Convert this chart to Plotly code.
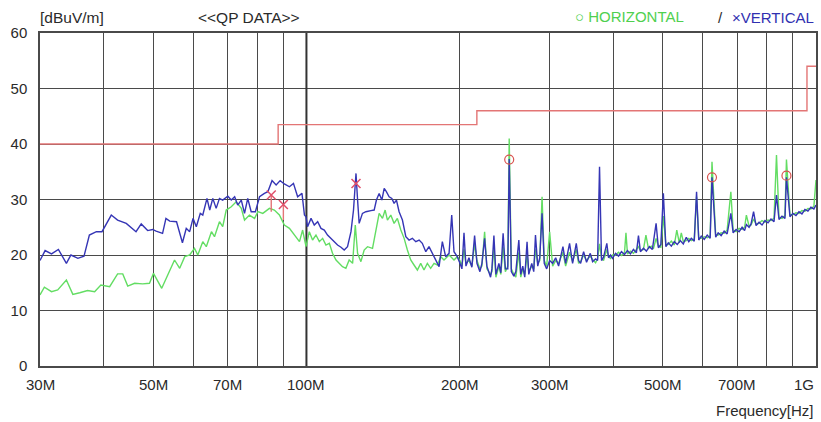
import math
import plotly.graph_objects as go

# ---------------- data ----------------
# Limit line (dBuV/m) - step function
LIMIT_FREQ = [30, 88, 216, 960, 1000]
LIMIT_LEVEL = [40, 43.5, 46, 54, 54]

# Vertical polarisation (blue) trace: frequency MHz, level dBuV/m
V_FREQ = [
    30.0, 30.7, 31.6, 32.6, 33.8, 34.5, 35.6, 36.6, 37.5, 38.7, 39.7, 41.4, 42.6, 44.3, 46.3, 47.4,
    48.8, 49.9, 50.7, 52.2, 53.0, 53.9, 55.6, 57.1, 58.1, 59.0, 59.9, 60.8, 61.9, 62.6, 63.8, 64.6,
    65.5, 66.5, 67.5, 68.5, 70.1, 71.2, 72.3, 73.3, 74.5, 75.6, 76.7, 77.9, 79.4, 80.9, 82.7, 84.0,
    85.6, 87.2, 88.8, 90.5, 92.6, 94.3, 96.1, 98.0, 99.1, 99.8, 100.5, 102.1, 103.6, 105.2, 106.8,
    108.4, 110.0, 111.7, 113.4, 115.1, 116.9, 118.6, 120.4, 122.3, 123.7, 125.1, 126.0, 126.9, 128.8,
    130.8, 133.8, 135.8, 137.2, 138.9, 140.6, 142.1, 143.5, 145.3, 147.1, 148.6, 150.2, 152.0, 154.3,
    156.7, 159.0, 161.4, 163.9, 166.4, 168.8, 171.5, 174.0, 176.6, 179.4, 182.1, 184.8, 187.6, 190.5,
    192.8, 194.8, 197.7,
    200.1, 201.9, 203.8, 205.6, 208.4, 211.2, 213.8, 216.1, 219.0, 221.0, 223.7, 226.0, 229.8, 231.2,
    233.3, 235.4, 238.6, 240.7, 243.2, 245.7, 248.4, 250.0, 252.4, 255.3, 257.6, 261.1, 263.4, 265.8,
    268.2, 271.0, 273.1, 276.8, 279.3, 281.5, 284.4, 287.0, 290.0, 292.9, 296.1, 300.1, 304.2, 308.4,
    312.5, 318.7, 322.6, 328.4, 332.9, 338.5, 342.1, 345.2, 349.9, 354.6, 360.6, 364.4, 369.3, 372.7,
    376.0, 379.4, 382.9, 388.6, 391.6, 395.2, 398.7,
    404.2, 409.7, 415.2, 420.9, 426.6, 432.4, 438.3, 444.2, 448.3, 452.3, 458.5, 464.7, 471.0, 477.4,
    485.5, 490.5, 496.1, 501.7, 507.4, 513.1, 520.1, 527.2, 534.3, 541.6, 549.0, 556.5, 562.8, 569.2,
    576.9, 582.9, 588.7, 595.4, 603.5, 611.7, 619.9, 625.0, 635.5, 642.7, 651.4, 660.3, 669.3, 680.6,
    687.7, 697.0, 706.5, 716.1, 724.2, 730.1, 739.0, 745.7, 754.2, 762.7, 773.1, 783.6, 794.3, 805.1,
    816.0, 827.2, 836.5, 846.0, 857.5, 869.2, 875.0, 889.0, 901.1, 913.4, 925.8, 938.4, 951.2, 964.1,
    977.2, 990.5, 1000.0,
]
V_LEVEL = [
    19.0, 20.8, 20.2, 21.0, 18.5, 20.0, 19.4, 19.8, 23.6, 24.2, 24.2, 27.2, 26.3, 25.7, 24.2, 25.6,
    24.4, 24.6, 24.3, 23.9, 26.6, 26.1, 26.0, 22.2, 24.8, 24.2, 26.6, 25.1, 27.5, 27.2, 30.2, 28.1,
    30.2, 28.4, 30.2, 29.9, 30.6, 29.9, 30.5, 29.0, 29.9, 27.5, 30.2, 27.8, 27.8, 30.5, 31.1, 31.4,
    33.4, 32.6, 33.4, 32.8, 32.3, 32.9, 30.5, 31.1, 27.2, 26.9, 25.1, 26.6, 25.4, 26.0, 24.8,
    24.5, 23.6, 23.0, 22.4, 21.8, 21.4, 20.9, 21.5, 24.2, 28.1, 34.7, 29.9, 25.7, 27.5,
    27.8, 28.0, 28.1, 29.9, 31.1, 29.9, 32.0, 31.4, 30.5, 30.2, 29.3, 29.9, 27.8, 26.3,
    23.3, 22.7, 23.0, 22.4, 22.7, 22.1, 20.6, 21.5, 20.3, 19.1, 17.9, 22.4, 19.7, 20.3,
    27.2, 20.6, 19.7,
    18.5, 17.5, 24.0, 18.0, 19.5, 17.8, 23.5, 18.5, 17.0, 18.5, 23.0, 18.0, 16.0, 17.5,
    23.5, 16.5, 18.5, 16.8, 23.9, 17.5, 17.5, 37.3, 17.0, 16.2, 17.0, 22.7, 16.5, 18.0,
    16.0, 22.4, 16.5, 18.5, 17.0, 23.6, 18.0, 19.5, 27.5, 18.5, 17.5, 19.0, 18.5, 19.5,
    18.0, 21.5, 18.5, 22.1, 18.5, 22.1, 19.0, 18.5, 20.6, 18.7, 20.3, 18.8, 19.3, 19.0,
    35.9, 19.0, 19.6, 22.1, 19.5, 20.0, 19.4,
    20.3, 19.8, 20.6, 20.1, 20.8, 20.2, 21.0, 20.4, 23.5, 20.6, 21.2, 20.7, 21.5, 21.0,
    25.7, 21.3, 21.9, 31.1, 21.5, 22.2, 21.6, 22.4, 21.9, 22.6, 22.0, 23.2, 22.4, 23.0,
    22.5, 31.4, 22.7, 23.4, 22.8, 23.6, 23.0, 34.0, 23.2, 24.0, 23.5, 24.3, 23.8, 27.5,
    24.0, 24.6, 24.2, 25.0, 24.4, 25.5, 25.0, 25.6, 27.8, 25.3, 25.9, 25.4, 26.2, 25.8,
    26.5, 26.0, 30.8, 26.4, 27.0, 26.6, 34.0, 26.9, 27.5, 27.1, 27.8, 27.4, 28.2, 27.9,
    28.6, 28.3, 29.0,
]

# Horizontal polarisation (green) trace
H_FREQ = [
    30.0, 30.6, 31.6, 32.5, 33.8, 34.8, 35.9, 37.2, 38.4, 39.5, 41.1, 42.6, 43.6, 44.6, 46.0, 47.7,
    49.2, 50.1, 52.0, 53.4, 55.1, 56.4, 57.7, 59.0, 60.3, 61.2, 62.6, 63.6, 65.1, 66.0, 67.5, 68.5,
    69.6, 71.2, 72.8, 74.5, 75.6, 77.3, 79.1, 80.3, 82.1, 84.6, 86.5, 88.5, 90.5, 92.6, 94.7, 96.9,
    98.3, 99.8, 101.3, 102.8, 104.4, 106.0, 107.6, 109.2, 110.9, 112.5, 114.3, 116.0, 117.7, 119.5,
    121.3, 123.2, 124.7, 126.0, 127.9, 129.8, 131.8, 134.8, 137.2, 138.9, 141.0, 142.7, 144.2, 146.4,
    148.6, 150.8, 153.2, 155.5, 157.8, 160.2, 162.6, 165.1, 167.6, 170.1, 172.7, 175.3, 178.0, 180.7,
    183.5, 186.2, 190.5, 194.8, 197.7,
    200.1, 201.9, 203.8, 205.6, 208.4, 211.2, 213.8, 216.1, 219.0, 221.0, 223.7, 226.0, 229.8, 231.2,
    233.3, 235.4, 238.6, 240.7, 243.2, 245.7, 248.4, 250.0, 252.4, 255.3, 257.6, 261.1, 263.4, 265.8,
    268.2, 271.0, 273.1, 276.8, 279.3, 281.5, 284.4, 287.0, 290.0, 292.9, 296.1, 300.1, 304.2, 308.4,
    312.5, 318.7, 322.6, 328.4, 332.9, 338.5, 342.1, 345.2, 349.9, 354.6, 360.6, 364.4, 369.3, 372.7,
    376.0, 379.4, 382.9, 388.6, 391.6, 395.2, 398.7,
    404.2, 409.7, 415.2, 420.9, 423.7, 426.6, 432.4, 438.3, 444.2, 448.3, 452.3, 458.5, 463.7, 468.9,
    475.3, 479.6, 485.5, 490.5, 496.1, 501.7, 507.4, 513.1, 520.1, 527.2, 533.1, 539.2, 544.1, 549.0,
    556.5, 562.8, 569.2, 576.9, 582.9, 588.7, 595.4, 603.5, 611.7, 619.9, 625.0, 635.5, 642.7, 651.4,
    660.3, 669.3, 680.6, 687.7, 697.0, 706.5, 716.1, 724.2, 730.1, 739.0, 745.7, 754.2, 762.7, 773.1,
    783.6, 794.3, 805.1, 816.0, 827.2, 836.5, 846.0, 857.5, 869.2, 875.0, 889.0, 901.1, 913.4, 925.8,
    938.4, 951.2, 964.1, 977.2, 990.5, 1000.0,
]
H_LEVEL = [
    12.8, 14.2, 13.4, 13.7, 15.5, 12.9, 13.2, 13.6, 13.4, 14.6, 14.3, 16.6, 16.6, 14.4, 14.9, 14.8,
    14.9, 16.7, 14.0, 16.4, 19.1, 17.6, 19.7, 20.0, 21.2, 20.0, 22.4, 21.5, 24.2, 23.3, 26.0, 25.1,
    28.1, 28.7, 29.6, 28.4, 26.3, 27.2, 26.6, 27.8, 27.5, 28.4, 28.1, 27.2, 25.4, 24.8, 23.6, 22.4,
    24.5, 21.5, 24.2, 22.7, 23.6, 22.4, 23.0, 21.8, 22.1, 20.3, 19.1, 18.5, 17.9, 17.6,
    19.1, 18.5, 25.4, 20.3, 18.8, 20.9, 21.5, 21.2, 25.1, 27.5, 26.6, 28.1, 26.3, 27.2,
    25.7, 26.6, 24.5, 23.0, 20.9, 19.1, 18.2, 17.3, 18.5, 17.3, 18.5, 17.6, 18.5, 18.2,
    19.7, 19.1, 20.0, 19.1, 19.7,
    19.0, 18.0, 21.0, 18.5, 19.0, 18.0, 22.0, 19.0, 17.5, 18.0, 24.2, 17.5, 16.5, 17.0,
    21.5, 16.0, 18.0, 16.5, 21.5, 17.0, 18.0, 41.0, 17.5, 16.5, 16.0, 20.5, 16.0, 17.5,
    16.5, 20.0, 17.0, 18.0, 17.5, 21.0, 18.5, 19.0, 30.5, 19.0, 18.0, 24.2, 18.0, 19.0,
    18.5, 20.5, 18.0, 20.5, 18.8, 21.0, 18.5, 18.8, 20.0, 19.0, 19.8, 19.2, 18.6, 19.3,
    22.0, 19.5, 19.0, 21.0, 19.7, 19.4, 20.0,
    20.0, 20.5, 19.9, 20.4, 24.0, 20.2, 20.7, 20.3, 21.0, 21.5, 20.8, 21.0, 23.6, 21.2,
    21.6, 21.1, 23.0, 21.6, 21.4, 27.0, 21.8, 21.9, 22.5, 21.8, 24.5, 22.2, 24.0, 22.4,
    22.6, 23.0, 22.6, 22.9, 30.5, 23.0, 23.0, 23.3, 23.1, 23.5, 36.8, 23.6, 23.6, 24.0,
    23.9, 24.5, 31.4, 24.5, 24.2, 24.8, 24.6, 25.0, 27.2, 25.2, 25.4, 26.5, 25.6, 25.7,
    26.2, 25.9, 26.3, 26.2, 26.6, 38.0, 26.8, 26.6, 27.1, 37.2, 27.2, 27.3, 27.6, 27.5,
    28.0, 27.9, 28.4, 28.3, 28.8, 33.5,
]

# QP measurement markers
H_QP_FREQ = [250.0, 625.0, 875.0]
H_QP_LEVEL = [37.2, 34.0, 34.3]
V_QP_FREQ = [85.3, 90.1, 125.1]
V_QP_LEVEL = [30.8, 29.1, 32.9]
V_QP_BASE = [27.8, 26.3, 32.9]

GRID_FREQ = [30, 40, 50, 60, 70, 80, 90, 100, 200, 300, 400, 500, 600, 700, 800, 900, 1000]
X_LABEL_FREQ = [30, 50, 70, 100, 200, 300, 500, 700, 1000]
X_LABEL_TEXT = ["30M", "50M", "70M", "100M", "200M", "300M", "500M", "700M", "1G"]
Y_TICKS = [0, 10, 20, 30, 40, 50, 60]

GREEN = "#63dd63"
BLUE = "#3535b5"
RED = "#e37575"
GRID = "#4a4a4a"
TEXT = "#2a2a2a"
FONT = "Liberation Sans, Arial, sans-serif"

fig = go.Figure()

# thicker 100 MHz decade line
fig.add_trace(go.Scatter(x=[100, 100], y=[0, 60], mode="lines",
                         line=dict(color="#333333", width=2), hoverinfo="skip"))

fig.add_trace(go.Scatter(x=LIMIT_FREQ, y=LIMIT_LEVEL, mode="lines", line_shape="hv",
                         line=dict(color=RED, width=1.4)))
fig.add_trace(go.Scatter(x=H_FREQ, y=H_LEVEL, mode="lines",
                         line=dict(color=GREEN, width=1.4)))
fig.add_trace(go.Scatter(x=V_FREQ, y=V_LEVEL, mode="lines",
                         line=dict(color=BLUE, width=1.4)))

# vertical drop lines from the QP "x" markers
drop_x, drop_y = [], []
for f, top, base in zip(V_QP_FREQ, V_QP_LEVEL, V_QP_BASE):
    if base != top:
        drop_x += [f, f, None]
        drop_y += [top, base, None]
fig.add_trace(go.Scatter(x=drop_x, y=drop_y, mode="lines",
                         line=dict(color=RED, width=1.4)))

fig.add_trace(go.Scatter(x=H_QP_FREQ, y=H_QP_LEVEL, mode="markers",
                         marker=dict(symbol="circle-open", size=9, color="#d9534f",
                                     line=dict(width=1.2, color="#d9534f"))))
fig.add_trace(go.Scatter(x=V_QP_FREQ, y=V_QP_LEVEL, mode="markers",
                         marker=dict(symbol="x-thin-open", size=9, color="#e0506a",
                                     line=dict(width=1.5, color="#e0506a"))))

annotations = []
for f, t in zip(X_LABEL_FREQ, X_LABEL_TEXT):
    anchor = "right" if f == X_LABEL_FREQ[-1] else "center"
    annotations.append(dict(x=math.log10(f), y=0, xref="x", yref="paper",
                            text=t, showarrow=False, xanchor=anchor, yanchor="middle",
                            yshift=-18, font=dict(size=15, color=TEXT, family=FONT)))

annotations += [
    dict(x=1.0, y=0, xref="paper", yref="paper", text="Frequency[Hz]", showarrow=False,
         xanchor="right", yanchor="middle", yshift=-44, font=dict(size=15, color=TEXT, family=FONT)),
    dict(x=-0.003, y=1, xref="paper", yref="paper", text="[dBuV/m]", showarrow=False,
         xanchor="left", yanchor="middle", yshift=16, font=dict(size=15.5, color=TEXT, family=FONT)),
    dict(x=(250 - 40) / 778, y=1, xref="paper", yref="paper", text="&lt;&lt;QP DATA&gt;&gt;",
         showarrow=False, xanchor="center", yanchor="middle", yshift=16,
         font=dict(size=15.5, color=TEXT, family=FONT)),
    dict(x=(574 - 40) / 778, y=1, xref="paper", yref="paper",
         text="○ HORIZONTAL", showarrow=False,
         xanchor="left", yanchor="middle", yshift=17, font=dict(size=15, color="#4fd04f", family=FONT)),
    dict(x=(722 - 40) / 778, y=1, xref="paper", yref="paper", text="/", showarrow=False,
         xanchor="center", yanchor="middle", yshift=16, font=dict(size=15, color=TEXT, family=FONT)),
    dict(x=1.0, y=1, xref="paper", yref="paper",
         text="×VERTICAL", showarrow=False,
         xanchor="right", yanchor="middle", yshift=16, font=dict(size=15, color="#3030b0", family=FONT)),
]

fig.update_layout(
    width=821, height=422,
    margin=dict(l=40, r=3, t=33, b=56),
    plot_bgcolor="white", paper_bgcolor="white",
    showlegend=False,
    font=dict(family=FONT, size=15, color=TEXT),
    annotations=annotations,
    xaxis=dict(type="log", range=[math.log10(30), math.log10(1000)],
               tickvals=GRID_FREQ, showticklabels=False, ticks="",
               showgrid=True, gridcolor=GRID, gridwidth=1,
               showline=True, linecolor=GRID, linewidth=1.5, mirror=True, zeroline=False),
    yaxis=dict(range=[0, 60], tickvals=Y_TICKS, ticks="", ticklabelstandoff=8,
               showgrid=True, gridcolor=GRID, gridwidth=1,
               showline=True, linecolor=GRID, linewidth=1.5, mirror=True, zeroline=False,
               tickfont=dict(size=15, color=TEXT, family=FONT)),
)

fig.write_html(
    "out.html",
    config={"displayModeBar": False},
    post_script="document.body.style.margin='0px';document.body.style.padding='0px';"
                "document.body.style.overflow='hidden';",
)
